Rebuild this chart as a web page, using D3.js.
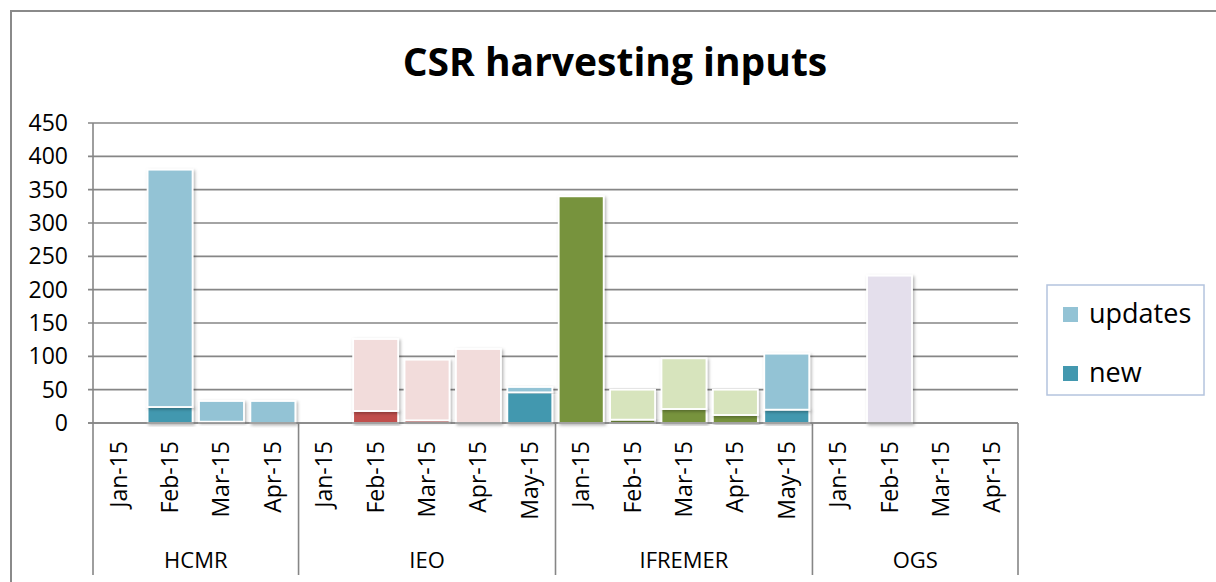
<!DOCTYPE html>
<html><head><meta charset="utf-8">
<script src="https://cdn.jsdelivr.net/npm/d3@7/dist/d3.min.js"></script>
<style>
html,body{margin:0;padding:0;background:#fff;}
svg{display:block;}
text{font-family:"Open Sans","Noto Sans",sans-serif;fill:#000;}
</style></head>
<body>
<svg id="c" width="1216" height="582"></svg>
<script>
// ---- data ----
const groups = ["HCMR", "IEO", "IFREMER", "OGS"];
const groupMonths = [
  ["Jan-15", "Feb-15", "Mar-15", "Apr-15"],
  ["Jan-15", "Feb-15", "Mar-15", "Apr-15", "May-15"],
  ["Jan-15", "Feb-15", "Mar-15", "Apr-15", "May-15"],
  ["Jan-15", "Feb-15", "Mar-15", "Apr-15"]
];
const newValues     = [0, 24, 2, 0,   0, 18, 4, 0, 46,   340, 5, 21, 12, 20,   0, 0, 0, 0];
const updatesValues = [0, 356, 31, 33, 0, 108, 91, 111, 8, 0, 45, 76, 38, 84,  0, 221, 0, 0];
const seriesNames = ["updates", "new"];
const yTicks = [0, 50, 100, 150, 200, 250, 300, 350, 400, 450];

// ---- styles ----
const palettes = {
  blue:   {upd: "#93C3D5", nw: "#4398AF"},
  red:    {upd: "#F2DCDB", nw: "#C0504D"},
  green:  {upd: "#D7E4BD", nw: "#77933C"},
  purple: {upd: "#E4DFEC", nw: "#8064A2"}
};
const groupPalette = ["blue", "red", "green", "purple"];
const lastMonthPalette = "blue"; // May bars use blue

// build category list
const cats = [];
groups.forEach((g, gi) => groupMonths[gi].forEach((m, mi) => {
  const pal = (m === "May-15") ? lastMonthPalette : groupPalette[gi];
  cats.push({group: g, gi, month: m, pal});
}));
cats.forEach((c, i) => { c.i = i; c.nw = newValues[i]; c.upd = updatesValues[i]; });

const svg = d3.select("#c");
const L = 93, R = 1018, T = 123, B = 423, AXB = 575;

const defs = svg.append("defs");
const f = defs.append("filter").attr("id", "sh").attr("x", "-20%").attr("y", "-20%").attr("width", "140%").attr("height", "140%");
f.append("feDropShadow").attr("dx", 1.5).attr("dy", 1.5).attr("stdDeviation", 1.6)
  .attr("flood-color", "#000").attr("flood-opacity", 0.3);

// outer frame
svg.append("path").attr("d", `M11,582 V11 H1216`).attr("fill", "none")
  .attr("stroke", "#8a8a8a").attr("stroke-width", 2);

// title
svg.append("text").attr("x", 615).attr("y", 76).attr("text-anchor", "middle")
  .attr("font-weight", "bold").attr("font-size", 39).text("CSR harvesting inputs");

const x = d3.scaleBand().domain(cats.map(c => c.i)).range([L, R])
  .paddingInner(0.125).paddingOuter(0.0625);
const y = d3.scaleLinear().domain([0, 450]).range([B, T]);

// gridlines
svg.append("g").selectAll("line").data(yTicks).join("line")
  .attr("x1", L - 5).attr("x2", R).attr("y1", d => y(d)).attr("y2", d => y(d))
  .attr("stroke", "#868686").attr("stroke-width", 1.6);

// y axis labels
const yAxis = d3.axisLeft(y).tickValues(yTicks).tickSize(0).tickPadding(25);
const ya = svg.append("g").attr("transform", `translate(${L},0)`).call(yAxis);
ya.select(".domain").remove();
ya.selectAll("text").attr("font-size", 23).attr("font-family", '"Open Sans",sans-serif').attr("fill", "#000");

// left axis line
svg.append("line").attr("x1", L).attr("x2", L).attr("y1", T).attr("y2", AXB)
  .attr("stroke", "#868686").attr("stroke-width", 1.6);

// group separators
const bounds = [];
let acc = 0;
groupMonths.forEach((ms, gi) => { bounds.push([acc, acc + ms.length - 1]); acc += ms.length; });
const step = x.step();
const edgeX = idx => L + step * idx;
bounds.forEach(([a, b]) => {
  svg.append("line").attr("x1", edgeX(b + 1)).attr("x2", edgeX(b + 1)).attr("y1", B).attr("y2", AXB)
    .attr("stroke", "#868686").attr("stroke-width", 1.6);
});

// bars
const barG = svg.append("g");
const stackData = cats.map(c => [
  {c, y0: 0, y1: c.nw, col: palettes[c.pal].nw},
  {c, y0: c.nw, y1: c.nw + c.upd, col: palettes[c.pal].upd}
]).flat().filter(d => d.y1 > d.y0);
barG.selectAll("rect").data(stackData).join("rect")
  .attr("x", d => x(d.c.i)).attr("width", x.bandwidth())
  .attr("y", d => y(d.y1)).attr("height", d => y(d.y0) - y(d.y1))
  .attr("fill", d => d.col).attr("stroke", "#fff").attr("stroke-width", 1.8)
  .attr("filter", "url(#sh)");

// redraw baseline
svg.append("line").attr("x1", L - 5).attr("x2", R).attr("y1", B).attr("y2", B)
  .attr("stroke", "#868686").attr("stroke-width", 1.6);

// month labels
svg.append("g").selectAll("text").data(cats).join("text")
  .attr("transform", d => `translate(${x(d.i) + x.bandwidth() / 2 + 8},441) rotate(-90)`)
  .attr("text-anchor", "end").attr("font-size", 23).text(d => d.month);

// group labels
svg.append("g").selectAll("text").data(bounds).join("text")
  .attr("x", (d) => (edgeX(d[0]) + edgeX(d[1] + 1)) / 2).attr("y", 568)
  .attr("text-anchor", "middle").attr("font-size", 22).text((d, i) => groups[i]);

// legend
const lg = svg.append("g");
lg.append("rect").attr("x", 1047).attr("y", 285).attr("width", 157).attr("height", 110)
  .attr("fill", "#fff").attr("stroke", "#B4C4DE").attr("stroke-width", 1.5);
const legCols = [palettes.blue.upd, palettes.blue.nw];
seriesNames.forEach((s, i) => {
  const yy = 307 + i * 59;
  lg.append("rect").attr("x", 1063).attr("y", yy).attr("width", 15).attr("height", 15).attr("fill", legCols[i]);
  lg.append("text").attr("x", 1089).attr("y", yy + 16).attr("font-size", 27).text(s);
});
</script>
</body></html>
